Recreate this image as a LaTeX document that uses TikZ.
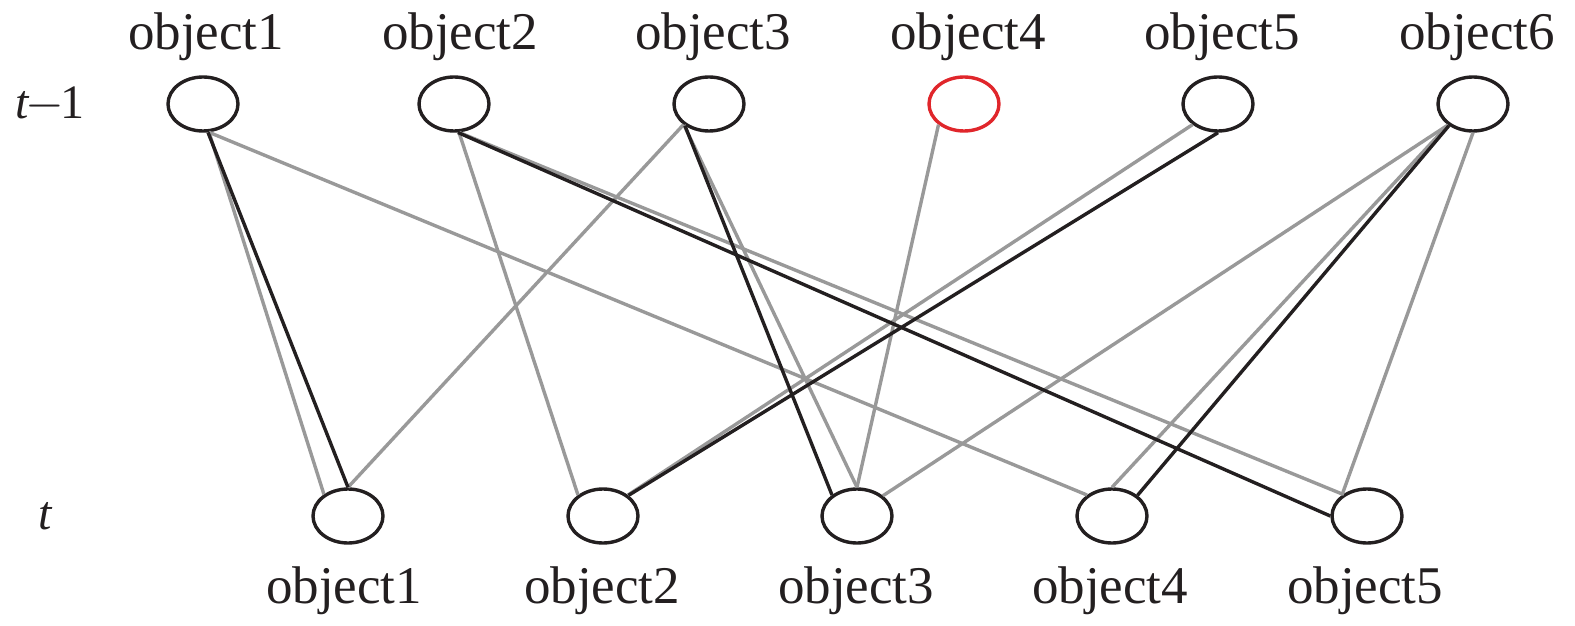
\documentclass[tikz,border=0pt]{standalone}
\usepackage{fontspec}
\setmainfont{Liberation Serif}
\usetikzlibrary{shapes.geometric}
\definecolor{ink}{HTML}{231F20}
\definecolor{lgray}{HTML}{999999}
\definecolor{rred}{HTML}{E0262B}
\begin{document}
\begin{tikzpicture}[x=0.5pt,y=-0.5pt,
  obj/.style={ellipse,draw=ink,line width=1.7pt,minimum width=35pt,minimum height=27pt,inner sep=0pt},
  redobj/.style={obj,draw=rred},
  lbl/.style={font=\fontsize{26.5pt}{30pt}\selectfont,text=ink,anchor=base,inner sep=0pt},
  rowlbl/.style={font=\fontsize{24pt}{28pt}\selectfont,text=ink,anchor=base,inner sep=0pt},
  gedge/.style={draw=lgray,line width=1.7pt},
  bedge/.style={draw=ink,line width=1.7pt}]
\useasboundingbox (0,0) rectangle (1575,626);
% top row
\node[obj] (a1) at (203,104) {};
\node[obj] (a2) at (454,104) {};
\node[obj] (a3) at (709,104) {};
\node[redobj] (a4) at (964,104) {};
\node[obj] (a5) at (1218,104) {};
\node[obj] (a6) at (1473,104) {};
% bottom row
\node[obj] (b1) at (348,516) {};
\node[obj] (b2) at (603,516) {};
\node[obj] (b3) at (857,516) {};
\node[obj] (b4) at (1112,516) {};
\node[obj] (b5) at (1367,516) {};
% labels
\node[lbl] (la1) at (206,50) {object1};
\node[lbl] (la2) at (460,50) {object2};
\node[lbl] (la3) at (713,50) {object3};
\node[lbl] (la4) at (968,50) {object4};
\node[lbl] (la5) at (1222,50) {object5};
\node[lbl] (la6) at (1477,50) {object6};
\node[lbl] (lb1) at (344,603) {object1};
\node[lbl] (lb2) at (602,603) {object2};
\node[lbl] (lb3) at (856,603) {object3};
\node[lbl] (lb4) at (1110,603) {object4};
\node[lbl] (lb5) at (1365,603) {object5};
\node[rowlbl] (tm1) at (50,119) {\textit{t}\kern-2pt$-$\kern-1.5pt1};
\node[rowlbl] (tt) at (46,529) {\textit{t}};
% gray edges
\draw[gedge] (a1.-78) -- (b1.138);
\draw[gedge] (a1.-78) -- (b4.140);
\draw[gedge] (a2.-80) -- (b2.140);
\draw[gedge] (a2.-80) -- (b5.138);
\draw[gedge] (a3.-141) -- (b1.90);
\draw[gedge] (a3.-140) -- (b3.90);
\draw[gedge] (a4.-141) -- (b3.90);
\draw[gedge] (a5.-141) -- (b2.40);
\draw[gedge] (a6.-140) -- (b3.38);
\draw[gedge] (a6.-140) -- (b4.90);
\draw[gedge] (a6.-90) -- (b5.140);
% black edges
\draw[bedge] (a1.-80) -- (b1.90);
\draw[bedge] (a2.-82) -- (b5.180);
\draw[bedge] (a3.-138) -- (b3.140);
\draw[bedge] (a5.-90) -- (b2.39);
\draw[bedge] (a6.-138) -- (b4.39);
\end{tikzpicture}
\end{document}
